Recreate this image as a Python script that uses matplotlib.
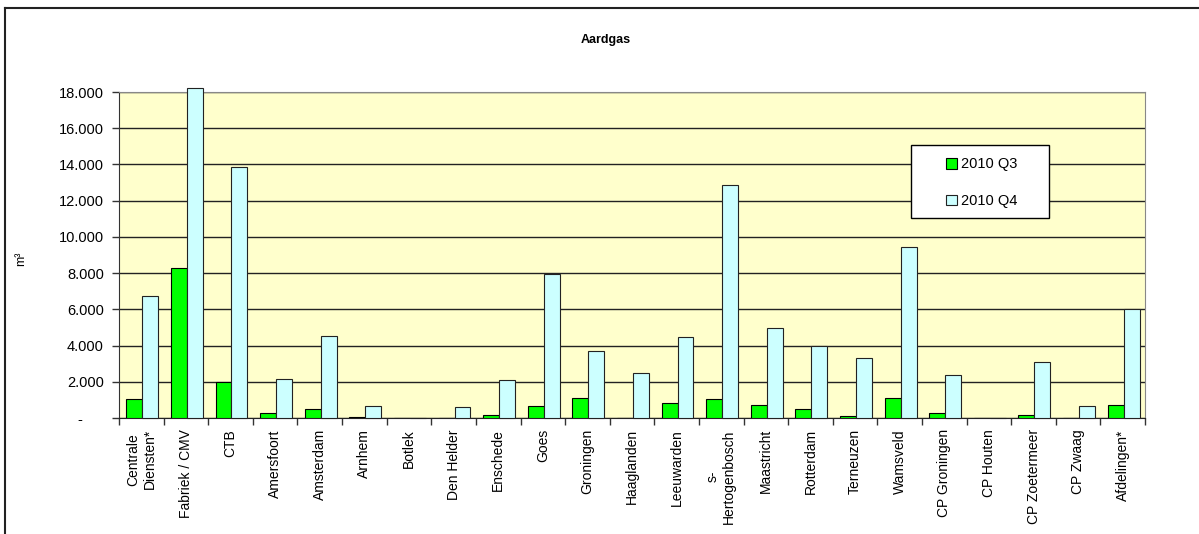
import matplotlib.pyplot as plt
import matplotlib.ticker as mticker
from matplotlib.lines import Line2D
from matplotlib.patches import Rectangle
import numpy as np

plt.rcParams['font.family'] = ['Liberation Sans', 'DejaVu Sans']

locaties = ['Centrale\nDiensten*', 'Fabriek / CMV', 'CTB', 'Amersfoort', 'Amsterdam',
            'Arnhem', 'Botlek', 'Den Helder', 'Enschede', 'Goes', 'Groningen',
            'Haaglanden', 'Leeuwarden', 's-\nHertogenbosch', 'Maastricht', 'Rotterdam',
            'Terneuzen', 'Wamsveld', 'CP Groningen', 'CP Houten', 'CP Zoetermeer',
            'CP Zwaag', 'Afdelingen*']
q3_2010 = [1030, 8300, 2000, 300, 480, 70, 0, 0, 150, 660, 1090, 0, 830,
           1030, 720, 480, 100, 1090, 260, 0, 160, 0, 720]
q4_2010 = [6720, 18200, 13850, 2140, 4530, 680, 0, 620, 2080, 7960, 3680, 2500,
           4460, 12870, 4960, 3980, 3310, 9430, 2360, 0, 3080, 680, 6040]
y_ticks = [0, 2000, 4000, 6000, 8000, 10000, 12000, 14000, 16000, 18000]

fig = plt.figure(figsize=(11.99, 5.34), dpi=100)
ax = fig.add_axes([0.0993, 0.2172, 0.8557, 0.6105])
ax.set_facecolor('#FFFFCC')

x = np.arange(len(locaties))
w = 0.357
b1 = ax.bar(x - w / 2 + 0.02, q3_2010, w, color='#00FF00', edgecolor='black',
            linewidth=0.8, label='2010 Q3', zorder=3)
b2 = ax.bar(x + w / 2 + 0.02, q4_2010, w, color='#CCFFFF', edgecolor='#222222',
            linewidth=0.8, label='2010 Q4', zorder=3)
for r in b2:
    r.set_clip_on(False)

ax.set_xlim(-0.5, len(locaties) - 0.5)
ax.set_ylim(0, 18000)
ax.set_yticks(y_ticks)
ax.yaxis.set_major_formatter(mticker.FuncFormatter(
    lambda v, p: '-     ' if v == 0 else f'{int(v):,}'.replace(',', '.')))
ax.grid(axis='y', color='#222222', linewidth=1, zorder=1)

ax.set_xticks(x)
ax.set_xticklabels(locaties, rotation=90, fontsize=10, ha='center', va='top',
                   multialignment='center')
ax.tick_params(axis='x', length=0, pad=8)
ax.set_xticks(np.arange(len(locaties) + 1) - 0.5, minor=True)
ax.tick_params(axis='x', which='minor', length=5, width=1, color='#333333')
ax.tick_params(axis='y', length=5, width=1, labelsize=10.5, pad=6, color='#333333')

for s in ['top', 'right']:
    ax.spines[s].set_color('#888888')
ax.spines['left'].set_color('#333333')
ax.spines['bottom'].set_color('#222222')

fig.text(0.505, 0.925, 'Aardgas', ha='center', va='center', fontsize=9,
         fontweight='bold')
fig.text(0.018, 0.515, 'm³', ha='center', va='center', fontsize=9, rotation=90)

# legenda: wit kader met gecentreerde inhoud
ax.add_patch(Rectangle((0.772, 0.613), 0.134, 0.224, transform=ax.transAxes,
                       facecolor='white', edgecolor='black', linewidth=1, zorder=4))
leg = ax.legend(loc='center', bbox_to_anchor=(0.841, 0.722), fontsize=10.5,
                frameon=False, handlelength=0.75, handleheight=0.75,
                handletextpad=0.3, labelspacing=1.55, borderpad=0)
leg.set_zorder(5)

# kader rond de grafiek (alleen links en boven zichtbaar)
fig.add_artist(Line2D([0.0045, 0.0045], [0, 0.985], color='#222222', lw=1.5))
fig.add_artist(Line2D([0.0045, 1.0], [0.985, 0.985], color='#222222', lw=1.5))

fig.savefig('out.png', dpi=100)
